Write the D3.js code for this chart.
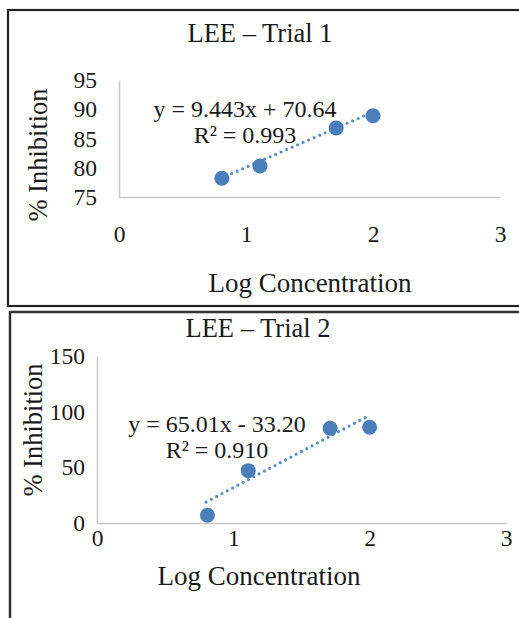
<!DOCTYPE html>
<html>
<head>
<meta charset="utf-8">
<script src="https://cdn.jsdelivr.net/npm/d3@7"></script>
<style>
  body { margin: 0; background: white; }
  text { font-family: "Liberation Serif", "Times New Roman", serif; fill: #1a1a1a; }
</style>
</head>
<body>
<div id="chart"></div>
<script>
const width = 519
const height = 618

// log concentration (x) and % inhibition (y) for both trials
const logConc = [0.81, 1.11, 1.71, 2.0];
const trial1 = [78.2, 80.3, 86.8, 88.9];
const trial2 = [7, 47, 85, 86];

const xTicks = [0, 1, 2, 3];
const yTicks1 = [75, 80, 85, 90, 95];
const yTicks2 = [0, 50, 100, 150];

// trendline coefficients as printed on the chart
const fit1 = { slope: 9.443, intercept: 70.64, eq: "y = 9.443x + 70.64", r2: "R\u00B2 = 0.993" };
const fit2 = { slope: 65.01, intercept: -33.20, eq: "y = 65.01x - 33.20", r2: "R\u00B2 = 0.910" };

const svg = d3.select("#chart")
  .append("svg")
  .attr("width", width)
  .attr("height", height)

// panel frames (they run off the right edge in the original)
svg.append("rect")
  .attr("x", 8).attr("y", 10)
  .attr("width", 600).attr("height", 296)
  .attr("fill", "none")
  .attr("stroke", "#222")
  .attr("stroke-width", 2.2)
svg.append("rect")
  .attr("x", 10).attr("y", 312)
  .attr("width", 600).attr("height", 400)
  .attr("fill", "none")
  .attr("stroke", "#333")
  .attr("stroke-width", 2.5)

function drawPanel(cfg) {
  const x = d3.scaleLinear().domain([0, 3]).range(cfg.xRange);
  const y = d3.scaleLinear().domain(cfg.yDomain).range(cfg.yRange);
  const g = svg.append("g");

  const xAxis = g.append("g")
    .attr("transform", `translate(0,${cfg.yRange[0]})`)
    .call(d3.axisBottom(x).tickValues(xTicks).tickSize(0).tickPadding(cfg.xPad).tickFormat(d3.format("d")));
  const yAxis = g.append("g")
    .attr("transform", `translate(${cfg.xRange[0]},0)`)
    .call(d3.axisLeft(y).tickValues(cfg.yTicks).tickSize(0).tickPadding(cfg.yPad).tickFormat(d3.format("d")));

  [xAxis, yAxis].forEach(a => {
    a.select(".domain").attr("stroke", "#c8c8c8").attr("stroke-width", 1.5);
    a.selectAll("text")
      .attr("font-family", "Liberation Serif, serif")
      .attr("font-size", 23.5)
      .attr("fill", "#1a1a1a");
  });

  // dotted linear trendline
  const x0 = 0.8, x1 = d3.max(cfg.xs);
  g.append("line")
    .attr("x1", x(x0)).attr("y1", y(cfg.fit.slope * x0 + cfg.fit.intercept))
    .attr("x2", x(x1)).attr("y2", y(cfg.fit.slope * x1 + cfg.fit.intercept))
    .attr("stroke", "#5b8bc9")
    .attr("stroke-width", 3.2)
    .attr("stroke-linecap", "round")
    .attr("stroke-dasharray", "0 6")

  g.selectAll("circle.pt")
    .data(cfg.xs.map((v, i) => [v, cfg.ys[i]]))
    .enter()
    .append("circle")
    .attr("class", "pt")
    .attr("cx", d => x(d[0]))
    .attr("cy", d => y(d[1]))
    .attr("r", 7.5)
    .attr("fill", "#4a7ebb")

  g.append("text")
    .attr("x", cfg.title.x).attr("y", cfg.title.y)
    .attr("font-size", 26.5)
    .attr("text-anchor", "middle")
    .text(cfg.title.text)
  g.append("text")
    .attr("x", cfg.xTitle.x).attr("y", cfg.xTitle.y)
    .attr("font-size", 27)
    .attr("text-anchor", "middle")
    .text("Log Concentration")
  g.append("text")
    .attr("transform", `translate(${cfg.yTitle.x},${cfg.yTitle.y}) rotate(-90)`)
    .attr("font-size", 26.5)
    .attr("text-anchor", "middle")
    .text("% Inhibition")

  g.append("text")
    .attr("x", cfg.eqPos.x).attr("y", cfg.eqPos.y)
    .attr("font-size", 24)
    .attr("text-anchor", "middle")
    .text(cfg.fit.eq)
  g.append("text")
    .attr("x", cfg.eqPos.x).attr("y", cfg.eqPos.y + 26)
    .attr("font-size", 24)
    .attr("text-anchor", "middle")
    .text(cfg.fit.r2)
}

drawPanel({
  xs: logConc, ys: trial1, fit: fit1,
  xRange: [119, 500], yDomain: [75, 95], yRange: [197, 80],
  yTicks: yTicks1, xPad: 28, yPad: 22,
  title: { text: "LEE \u2013 Trial 1", x: 260, y: 42 },
  xTitle: { x: 310, y: 292 },
  yTitle: { x: 47, y: 155 },
  eqPos: { x: 245, y: 117 }
});

drawPanel({
  xs: logConc, ys: trial2, fit: fit2,
  xRange: [97, 506], yDomain: [0, 150], yRange: [523, 356],
  yTicks: yTicks2, xPad: 6, yPad: 12,
  title: { text: "LEE \u2013 Trial 2", x: 258, y: 337 },
  xTitle: { x: 259, y: 585 },
  yTitle: { x: 42, y: 430 },
  eqPos: { x: 217, y: 432 }
});
</script>
</body>
</html>
